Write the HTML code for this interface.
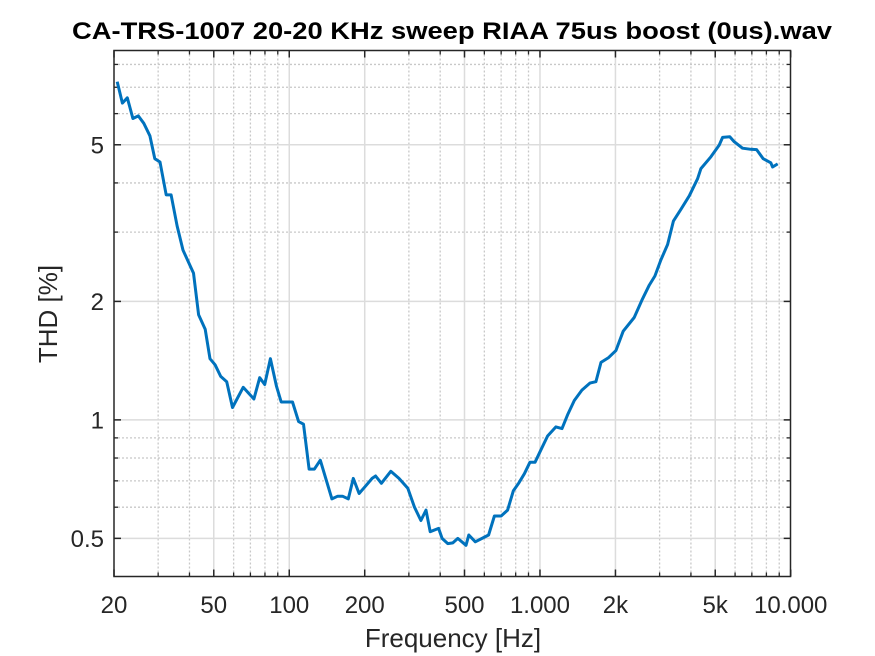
<!DOCTYPE html>
<html><head><meta charset="utf-8"><style>
body{margin:0;background:#fff;}
svg{display:block;font-family:"Liberation Sans",Arial,sans-serif;}
</style></head><body>
<svg id="chart" width="875" height="656" viewBox="0 0 875 656">
<rect x="0" y="0" width="875" height="656" fill="#fff"/>
<text x="452" y="39" text-anchor="middle" font-size="24" font-weight="bold" fill="#000" textLength="760" lengthAdjust="spacingAndGlyphs">CA-TRS-1007 20-20 KHz sweep RIAA 75us boost (0us).wav</text>
<g id="grid"></g>
<g id="ticks"></g>
<path id="line" fill="none" stroke="#0072BD" stroke-width="3" stroke-linejoin="round"/>
<rect x="114" y="50.5" width="676.5" height="526" fill="none" stroke="#262626" stroke-width="1.5"/>
<text x="453" y="647" text-anchor="middle" font-size="26" fill="#262626">Frequency [Hz]</text>
<text x="0" y="0" transform="translate(57,314) rotate(-90)" text-anchor="middle" font-size="26" fill="#262626">THD [%]</text>
</svg>
<script>
const freqs=[20.6,21.6,22.6,23.8,25.0,26.3,27.8,29.1,30.5,32.3,33.8,35.7,37.7,39.7,41.5,43.5,46.2,48.3,50.6,53.3,56.3,59.4,65.5,72.3,76.2,79.8,84.1,88.9,92.9,103,109,114,120,126,133,148,156,163,172,180,190,202,214,221,233,254,274,297,316,335,351,365,394,407,429,449,470,507,520,552,587,624,658,700,743,783,822,867,912,955,1009,1073,1158,1224,1289,1371,1470,1582,1672,1751,1878,2009,2148,2376,2565,2728,2873,3036,3228,3404,3650,3939,4253,4384,4805,5188,5348,5717,5951,6426,6935,7310,7768,8333,8469,8872];
const thd=[7.23,6.38,6.58,5.83,5.92,5.67,5.27,4.61,4.52,3.73,3.73,3.11,2.70,2.51,2.36,1.85,1.70,1.43,1.38,1.29,1.25,1.075,1.21,1.13,1.28,1.23,1.43,1.22,1.11,1.11,0.99,0.975,0.75,0.75,0.79,0.63,0.64,0.64,0.63,0.71,0.65,0.68,0.71,0.72,0.69,0.74,0.71,0.67,0.60,0.555,0.59,0.52,0.53,0.50,0.485,0.487,0.50,0.48,0.51,0.49,0.50,0.51,0.57,0.57,0.59,0.66,0.69,0.73,0.78,0.78,0.84,0.91,0.96,0.95,1.03,1.12,1.19,1.24,1.25,1.40,1.44,1.50,1.68,1.82,2.03,2.20,2.32,2.55,2.79,3.20,3.43,3.71,4.10,4.35,4.66,4.99,5.22,5.24,5.09,4.90,4.87,4.86,4.61,4.50,4.39,4.47];
const xTickVals=[20,50,100,200,500,1000,2000,5000,10000];
const xTickLabels=["20","50","100","200","500","1.000","2k","5k","10.000"];
const yTickVals=[0.5,1,2,5];
const yTickLabels=["0.5","1","2","5"];
const xMinorVals=[30,40,60,70,80,90,300,400,600,700,800,900,3000,4000,6000,7000,8000,9000];
const yMinorVals=[0.6,0.7,0.8,0.9,3,4,6,7,8];
const L=114,R=790.7,T=50.5,B=576.5;
const xMin=20,xMax=10000,yMin=0.4,yMax=8.68;
function xs(f){return L+(Math.log10(f)-Math.log10(xMin))/(Math.log10(xMax)-Math.log10(xMin))*(R-L);}
function ys(v){return B-(Math.log10(v)-Math.log10(yMin))/(Math.log10(yMax)-Math.log10(yMin))*(B-T);}
const NS="http://www.w3.org/2000/svg";
const grid=document.getElementById('grid'),ticks=document.getElementById('ticks');
function ln(p,x1,y1,x2,y2,st,w,dash){const l=document.createElementNS(NS,'line');l.setAttribute('x1',x1);l.setAttribute('y1',y1);l.setAttribute('x2',x2);l.setAttribute('y2',y2);l.setAttribute('stroke',st);l.setAttribute('stroke-width',w);if(dash)l.setAttribute('stroke-dasharray',dash);p.appendChild(l);return l;}
xMinorVals.forEach(v=>{const x=xs(v);
const g=ln(grid,x,T,x,B,'#c8c8c8',1.3,'2 2');


ln(ticks,x,B,x,B-4,'#262626',1.3);ln(ticks,x,T,x,T+4,'#262626',1.3);});
yMinorVals.forEach(v=>{const y=ys(v);
const g=ln(grid,L,y,R,y,'#c8c8c8',1.3,'2 2');


ln(ticks,L,y,L+4,y,'#262626',1.3);ln(ticks,R,y,R-4,y,'#262626',1.3);});
xTickVals.forEach((v,i)=>{const x=xs(v);
if(i>0&&i<xTickVals.length-1){const g=ln(grid,x,T,x,B,'#dcdcdc',1.5);

}
ln(ticks,x,B,x,B-7,'#262626',1.5);ln(ticks,x,T,x,T+7,'#262626',1.5);
const t=document.createElementNS(NS,'text');


t.setAttribute('x',x);t.setAttribute('y',613);t.setAttribute('text-anchor','middle');t.setAttribute('font-size','24');t.setAttribute('fill','#262626');t.textContent=xTickLabels[i];ticks.appendChild(t);});
yTickVals.forEach((v,i)=>{const y=ys(v);
const g=ln(grid,L,y,R,y,'#dcdcdc',1.5);


ln(ticks,L,y,L+7,y,'#262626',1.5);ln(ticks,R,y,R-7,y,'#262626',1.5);
const t=document.createElementNS(NS,'text');


t.setAttribute('x',104);t.setAttribute('y',y+8.5);t.setAttribute('text-anchor','end');t.setAttribute('font-size','24');t.setAttribute('fill','#262626');t.textContent=yTickLabels[i];ticks.appendChild(t);});
document.getElementById('line').setAttribute('d',freqs.map((f,i)=>(i?'L':'M')+xs(f).toFixed(1)+','+ys(thd[i]).toFixed(1)).join(''));
</script>
</body></html>
